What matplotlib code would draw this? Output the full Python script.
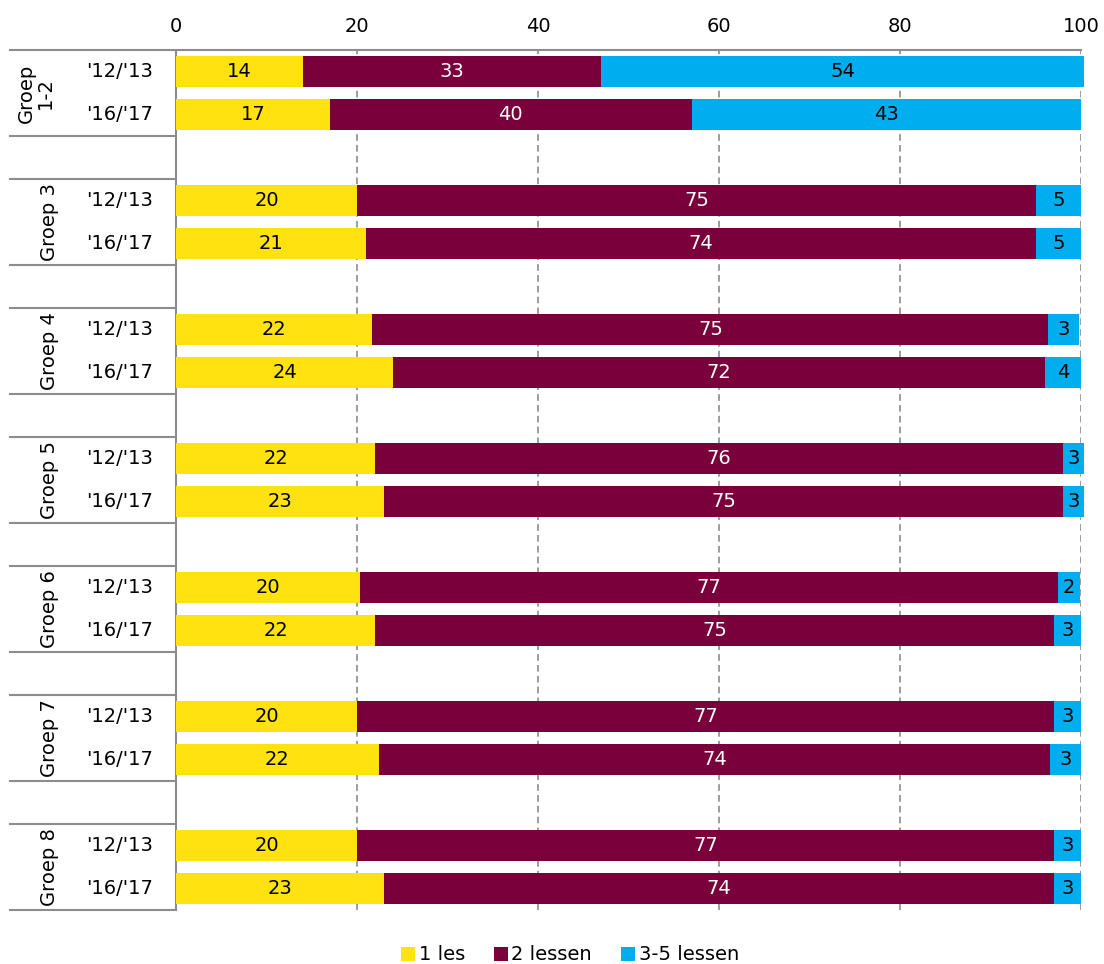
import matplotlib.pyplot as plt
from matplotlib.patches import Patch

plt.rcParams['font.family'] = ['DejaVu Sans']

# data
groups = ['Groep\n1-2', 'Groep 3', 'Groep 4', 'Groep 5', 'Groep 6', 'Groep 7', 'Groep 8']
years = ["'12/'13", "'16/'17"]
series = ['1 les', '2 lessen', '3-5 lessen']

les1 = [14.0, 17.0, 20.0, 21.0, 21.7, 24.0, 22.0, 23.0, 20.3, 22.0, 20.0, 22.4, 20.0, 23.0]
les2 = [33.0, 40.0, 75.0, 74.0, 74.7, 72.0, 76.0, 75.0, 77.2, 75.0, 77.0, 74.2, 77.0, 74.0]
les35 = [53.3, 43.0, 5.0, 5.0, 3.4, 4.0, 2.3, 2.3, 2.4, 3.0, 3.0, 3.4, 3.0, 3.0]

lab1 = [14, 17, 20, 21, 22, 24, 22, 23, 20, 22, 20, 22, 20, 23]
lab2 = [33, 40, 75, 74, 75, 72, 76, 75, 77, 75, 77, 74, 77, 74]
lab35 = [54, 43, 5, 5, 3, 4, 3, 3, 2, 3, 3, 3, 3, 3]

colors = ['#FFE20F', '#7A003C', '#00AEEF']
textcol = ['black', 'white', 'black']
gray = '#8c8c8c'
fs = 14

W, H = 1104, 964
fig = plt.figure(figsize=(W / 100, H / 100), dpi=100)
ax = fig.add_axes([176 / W, 1 - 910 / H, (1081 - 176) / W, (910 - 50) / H])

# row positions: two bars per group, one blank row between groups
rows = [3 * g + j for g in range(len(groups)) for j in range(len(years))]

left = [0.0] * len(rows)
for vals, labs, c, tc, name in zip([les1, les2, les35], [lab1, lab2, lab35], colors, textcol, series):
    bars = ax.barh(rows, vals, left=left, height=0.7, color=c, label=name, zorder=3, clip_on=False)
    for b, lab in zip(bars, labs):
        ax.text(b.get_x() + b.get_width() / 2, b.get_y() + b.get_height() / 2, str(lab),
                ha='center', va='center', color=tc, fontsize=fs, zorder=4)
    left = [l + v for l, v in zip(left, vals)]

ax.set_xlim(0, 100)
ax.set_ylim(19.5, -0.5)
ax.xaxis.tick_top()
ax.set_xticks([0, 20, 40, 60, 80, 100])
ax.tick_params(axis='x', length=0, pad=10, labelsize=fs)
ax.set_yticks([])
ax.grid(axis='x', color=gray, linestyle=(0, (4, 2.5)), linewidth=1.2, zorder=0)

for s in ['top', 'right', 'bottom']:
    ax.spines[s].set_visible(False)
ax.spines['left'].set_color(gray)
ax.spines['left'].set_linewidth(1.5)

# label area lines left of the plot
x_left = -(176 - 10) / (1081 - 176)
tr = ax.get_yaxis_transform()
ax.plot([x_left, 1], [-0.5, -0.5], color=gray, lw=1.5, transform=tr, clip_on=False)
for g in range(len(groups)):
    for yb in [3 * g - 0.5, 3 * g + 1.5]:
        if yb < 0:
            continue
        ax.plot([x_left, 0], [yb, yb], color=gray, lw=1.5, transform=tr, clip_on=False)

# year labels and group labels
for r, j in zip(rows, [j for g in groups for j in range(len(years))]):
    ax.text(-(176 - 120) / (1081 - 176), r, years[j], transform=tr,
            ha='center', va='center', fontsize=fs)
for g, name in enumerate(groups):
    xg = 36 if '\n' in name else 50
    xa = -(176 - xg) / (1081 - 176)
    ax.text(xa, 3 * g + 0.5, name, transform=tr, rotation=90,
            ha='center', va='center', fontsize=fs, linespacing=1.0)

handles = [Patch(facecolor=c) for c in colors]
fig.legend(handles, series, loc='center', bbox_to_anchor=(570 / W, 1 - 955 / H), ncol=3,
           frameon=False, fontsize=fs, handlelength=0.7, handleheight=0.7,
           handletextpad=0.2, columnspacing=1.5)

fig.savefig('out.png', dpi=100)
